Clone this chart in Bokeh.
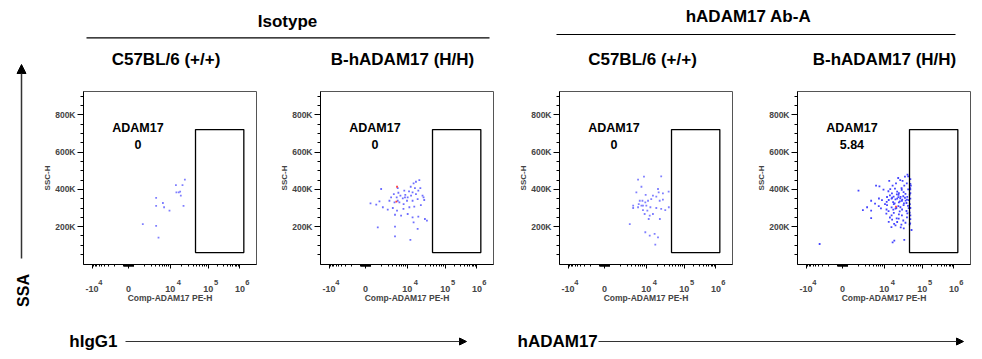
import math
from bokeh.plotting import figure
from bokeh.models import Range1d, FixedTicker, Arrow, NormalHead, LinearAxis
from bokeh.layouts import row, column
from bokeh.core.properties import value
from bokeh.embed import file_html
from bokeh.resources import INLINE

FONT = "Liberation Sans"

# ---------------- data ----------------
GROUPS = ["Isotype", "hADAM17 Ab-A"]
STRAINS = ["C57BL/6 (+/+)", "B-hADAM17 (H/H)", "C57BL/6 (+/+)", "B-hADAM17 (H/H)"]
GATE_NAME = "ADAM17"
PERCENTS = ["0", "0", "0", "5.84"]
X_LABEL = "Comp-ADAM17 PE-H"
Y_LABEL = "SSC-H"
ROW_LABEL = "SSA"
COL_LABELS = ["hIgG1", "hADAM17"]

# x: biexponential display channel (0..1024); y: SSC-H in thousands
X_TICK_CH = [51, 267, 514, 738, 926]
X_TICK_BASE = ["-10", "0", "10", "10", "10"]
X_EXP_CH = [100, 565, 785, 970]
X_EXP_LABELS = ["4", "4", "5", "6"]
Y_TICKS_K = [200, 400, 600, 800]
Y_TICK_LABELS = ["200K", "400K", "600K", "800K"]
GATE_X = [663, 949]
GATE_Y = [61, 721]

P1_X = [600, 547, 586, 564, 550, 572, 576, 430, 470, 430, 477, 509, 592, 351, 430, 444]
P1_Y = [452, 423, 423, 384, 384, 388, 366, 354, 327, 312, 304, 286, 311, 214, 204, 141]

P2_X = [585, 565, 551, 534, 559, 579, 545, 524, 496, 457, 461, 359, 434, 473, 502, 516, 487, 451,
        418, 408, 438, 467, 492, 512, 545, 575, 604, 614, 594, 555, 526, 491, 453, 428, 398, 369,
        349, 330, 296, 339, 441, 477, 516, 545, 579, 551, 575, 618, 630, 441, 441, 532, 457, 500,
        536, 565, 591, 610]
P2_Y = [450, 441, 432, 414, 407, 393, 384, 389, 393, 407, 382, 402, 375, 366, 370, 357, 352, 357,
        357, 339, 330, 330, 321, 339, 339, 348, 366, 343, 316, 307, 304, 295, 286, 300, 291, 304,
        336, 318, 325, 196, 264, 259, 268, 250, 254, 223, 188, 241, 232, 200, 148, 129, 339, 357,
        366, 375, 407, 357]
P2_RED_X = [453, 449]
P2_RED_Y = [414, 334]

P3_X = [465, 500, 602, 485, 455, 510, 553, 583, 587, 612, 646, 573, 543, 524, 491, 508, 469, 485,
        514, 538, 465, 436, 436, 494, 520, 573, 602, 647, 626, 593, 612, 504, 534, 528, 553, 594,
        416, 508, 534, 563, 583, 567, 494, 475]
P3_Y = [452, 468, 470, 414, 384, 371, 366, 402, 384, 379, 388, 361, 348, 339, 339, 330, 321, 313,
        313, 304, 304, 313, 300, 289, 286, 300, 295, 304, 289, 339, 345, 268, 259, 241, 268, 241,
        214, 170, 152, 161, 143, 104, 313, 339]

P4_X = [651, 636, 622, 608, 596, 543, 465, 485, 583, 563, 616, 632, 647, 671, 361,
        509, 538, 549, 577, 590, 617, 628, 655, 667,
        547, 559, 588, 598, 626, 639, 664,
        530, 557, 569, 597, 608, 636, 648,
        482, 500, 528, 540, 566, 580, 606, 618, 645, 658,
        436, 412, 459, 481, 518, 530, 557, 570, 597, 609, 628, 654, 665,
        387, 436, 494, 527, 539, 567, 580, 605, 619, 645, 658,
        526, 557, 570, 600, 618, 650, 664,
        436, 547, 560, 587, 599, 626, 648,
        540, 572, 590, 615, 639, 664,
        556, 580, 611, 629, 667, 675,
        573, 563, 632, 131,
        600, 590, 610, 575, 620, 560, 640, 600, 585, 630, 650, 668, 668, 668, 668, 668, 668, 668,
        655, 668]
P4_Y = [479, 468, 446, 450, 461, 446, 420, 416, 432, 420, 407, 420, 432, 420, 393,
        399, 390, 401, 404, 388, 398, 385, 400, 407,
        368, 379, 373, 370, 363, 376, 372,
        359, 350, 361, 358, 352, 355, 345,
        351, 342, 333, 343, 332, 346, 336, 339, 327, 342,
        339, 304, 324, 310, 321, 316, 303, 321, 310, 304, 316, 311, 321,
        289, 286, 298, 292, 283, 291, 297, 282, 292, 284, 299,
        270, 261, 274, 266, 260, 271, 275,
        246, 249, 238, 244, 243, 233, 250,
        226, 215, 225, 211, 221, 212,
        198, 207, 196, 191, 218, 182,
        125, 116, 129, 107,
        330, 350, 360, 325, 345, 355, 340, 380, 300, 325, 360, 350, 380, 400, 300, 260, 240, 430,
        470, 455]
P4_RED_X = [583]
P4_RED_Y = [307]

PANELS = [
    (P1_X, P1_Y, [], [], "#7f7fff"),
    (P2_X, P2_Y, P2_RED_X, P2_RED_Y, "#6f6fff"),
    (P3_X, P3_Y, [], [], "#7f7fff"),
    (P4_X, P4_Y, P4_RED_X, P4_RED_Y, "#4545ff"),
]

# ---------------- layout geometry (page pixels) ----------------
LEFT_W = 40
PANEL_WIDTHS = [237, 239, 238, 226]
PANEL_RIGHT = [21, 23, 22, 10]
PANEL_LEFT = 42
PANEL_TOP = 4
PANEL_BOTTOM = 50
FRAME_H = 173
HEADER_H = 87
PANEL_H = PANEL_TOP + FRAME_H + PANEL_BOTTOM
FOOTER_H = 43
TOTAL_H = HEADER_H + PANEL_H + FOOTER_H
COL_W = sum(PANEL_WIDTHS)
Y_RANGE = (-3, 925)


def x_minor_ticks():
    t = []
    for a, b in [(X_TICK_CH[2], X_TICK_CH[3]), (X_TICK_CH[3], X_TICK_CH[4])]:
        for m in range(2, 10):
            t.append(a + (b - a) * math.log10(m))
    p1k = X_TICK_CH[1] + 30
    t.append(p1k)
    for m in range(2, 10):
        t.append(p1k + (X_TICK_CH[2] - p1k) * math.log10(m))
    n1k = X_TICK_CH[1] - 30
    t.append(n1k)
    for m in range(2, 10):
        t.append(n1k - (n1k - X_TICK_CH[0]) * math.log10(m))
    for m in range(1, 10):
        t.append(X_TICK_CH[1] + 3 * m)
        t.append(X_TICK_CH[1] - 3 * m)
    return t


def blank(width, height, xr, yr):
    f = figure(width=width, height=height, x_range=Range1d(*xr), y_range=Range1d(*yr),
               toolbar_location=None, output_backend="svg", min_border=0, title=None,
               x_axis_location=None, y_axis_location=None)
    f.grid.visible = False
    f.outline_line_color = None
    f.background_fill_color = None
    f.border_fill_color = None
    return f


def txt(f, x, y, s, size, align="center", angle=0):
    f.text(x=[x], y=[y], text=[s], text_font=value(FONT), text_font_style="bold",
           text_font_size=size, text_align=align, text_baseline="middle", angle=angle,
           text_color="black")


# header
header = blank(COL_W, HEADER_H, (LEFT_W, LEFT_W + COL_W), (HEADER_H, 0))
txt(header, 287, 21, GROUPS[0], "17px")
txt(header, 748, 16, GROUPS[1], "17px")
header.segment(x0=[86, 556], y0=[37.3, 34], x1=[489, 955], y1=[37.3, 34], line_color="black",
               line_width=1.2)
for cx, s in zip([165.5, 402, 642, 884], STRAINS):
    txt(header, cx, 58.5, s, "17px")

# left strip
left = blank(LEFT_W, TOTAL_H, (0, LEFT_W), (TOTAL_H, 0))
left.add_layout(Arrow(end=NormalHead(size=9, fill_color="black", line_color="black"),
                      x_start=21, y_start=258, x_end=21, y_end=64,
                      line_color="#333333", line_width=1.5))
txt(left, 22.5, 290, ROW_LABEL, "16px", angle=math.pi / 2)

# footer
fy0 = HEADER_H + PANEL_H
footer = blank(COL_W, FOOTER_H, (LEFT_W, LEFT_W + COL_W), (fy0 + FOOTER_H, fy0))
txt(footer, 117, 341, COL_LABELS[0], "17px", align="right")
txt(footer, 517, 341, COL_LABELS[1], "17px", align="left")
for xs, xe in [(125, 466), (598, 963)]:
    footer.add_layout(Arrow(end=NormalHead(size=7, fill_color="black", line_color="black"),
                            x_start=xs, y_start=341, x_end=xe, y_end=341,
                            line_color="#333333", line_width=1.2))

# panels
panels = []
minor_x = x_minor_ticks()
minor_y = [v for v in range(50, 901, 50) if v not in Y_TICKS_K]
for i, (xs, ys, rx, ry, col) in enumerate(PANELS):
    p = figure(width=PANEL_WIDTHS[i], height=PANEL_H, x_range=Range1d(0, 1024),
               y_range=Range1d(*Y_RANGE), toolbar_location=None, output_backend="svg", title=None,
               min_border_left=PANEL_LEFT, min_border_right=PANEL_RIGHT[i],
               min_border_top=PANEL_TOP, min_border_bottom=PANEL_BOTTOM)
    p.grid.visible = False
    p.outline_line_color = "#555555"
    p.border_fill_color = None
    p.background_fill_color = None
    p.scatter(xs, ys, marker="square", size=1.8, fill_color=col, line_color=None)
    if rx:
        p.scatter(rx, ry, marker="square", size=1.8, fill_color="#ff4040", line_color=None)
    p.quad(left=[GATE_X[0]], right=[GATE_X[1]], bottom=[GATE_Y[0]], top=[GATE_Y[1]],
           fill_color=None, line_color="black", line_width=1.3)
    p.text(x=[322, 322], y=[730, 640], text=[GATE_NAME, PERCENTS[i]], text_font=value(FONT),
           text_font_style="bold", text_font_size="12.5px", text_align="center",
           text_baseline="middle", text_color="black")

    xa = p.xaxis[0]
    xa.ticker = FixedTicker(ticks=X_TICK_CH, minor_ticks=minor_x)
    xa.major_label_overrides = {t: l for t, l in zip(X_TICK_CH, X_TICK_BASE)}
    xa.axis_label = X_LABEL
    ya = p.yaxis[0]
    ya.ticker = FixedTicker(ticks=Y_TICKS_K, minor_ticks=minor_y)
    ya.major_label_overrides = {t: l for t, l in zip(Y_TICKS_K, Y_TICK_LABELS)}
    ya.axis_label = Y_LABEL
    for ax in (xa, ya):
        ax.axis_line_color = "black"
        ax.major_tick_line_color = "black"
        ax.minor_tick_line_color = "black"
        ax.major_label_text_font = FONT
        ax.major_label_text_font_style = "bold"
        ax.major_label_text_font_size = "8.5px"
        ax.axis_label_text_font = FONT
        ax.axis_label_text_font_style = "bold"
        ax.axis_label_text_font_size = "8.5px"
        ax.major_tick_in = 0
        ax.minor_tick_in = 0
    xa.major_label_text_font_size = "9px"
    xa.major_tick_out = 4
    xa.minor_tick_out = 2
    xa.major_label_standoff = 17
    xa.axis_label_standoff = -2
    ya.major_tick_out = 6
    ya.minor_tick_out = 3
    ya.major_label_standoff = 2
    ya.axis_label_standoff = 0
    ya.axis_label_text_font_size = "8px"

    # exponent row of the biexponential tick labels
    sup = LinearAxis(ticker=FixedTicker(ticks=X_EXP_CH),
                     major_label_overrides={t: l for t, l in zip(X_EXP_CH, X_EXP_LABELS)},
                     axis_line_color=None, major_tick_line_color=None,
                     minor_tick_line_color=None, major_tick_out=0, major_tick_in=0,
                     minor_tick_out=0, minor_tick_in=0, major_label_standoff=-26,
                     major_label_text_font=FONT, major_label_text_font_style="bold",
                     major_label_text_font_size="7.5px")
    p.add_layout(sup, "below")
    panels.append(p)

layout = row(left, column(header, row(*panels, spacing=0), footer, spacing=0), spacing=0)
open("out.html", "w").write(file_html(layout, INLINE))
